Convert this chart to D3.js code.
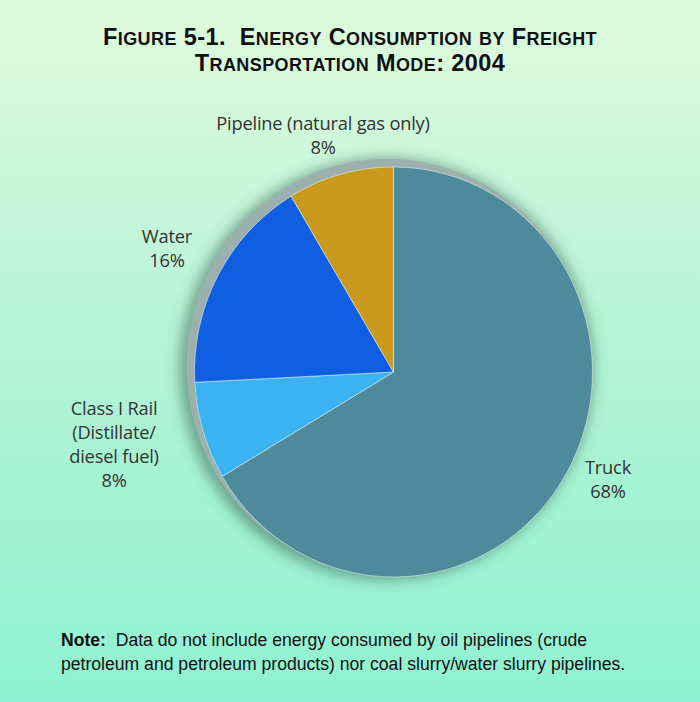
<!DOCTYPE html>
<html>
<head>
<meta charset="utf-8">
<script src="https://cdn.jsdelivr.net/npm/d3@7.9.0/dist/d3.min.js"></script>
<style>
  html, body { margin: 0; padding: 0; }
  body { width: 700px; height: 702px; overflow: hidden; }
  svg { display: block; }
  text { white-space: pre; }
</style>
</head>
<body>
<svg id="chart" width="700" height="702"></svg>
<script>
// ---- data ----
const modes = ['Truck', 'Class I Rail', 'Water', 'Pipeline'];
// slice sizes as drawn in the figure (percent of total)
const shares = [66.5, 7.7, 17.2, 8.6];
// percentages printed on the labels
const pctLabels = ['68%', '8%', '16%', '8%'];
const labelLines = [
  ['Truck'],
  ['Class I Rail', '(Distillate/', 'diesel fuel)'],
  ['Water'],
  ['Pipeline (natural gas only)']
];
const colors = ['#4d8a9b', '#3bb3f2', '#105fe2', '#c8991c'];

const titleLines = ['Figure 5-1.  Energy Consumption by Freight', 'Transportation Mode: 2004'];
const noteLines = [
  ['Note:', '  Data do not include energy consumed by oil pipelines (crude'],
  ['', 'petroleum and petroleum products) nor coal slurry/water slurry pipelines.']
];

// ---- layout ----
const W = 700, H = 702;
const cx = 393.5, cy = 372;
const ry = 205, rx = 199;

const svg = d3.select('#chart');
const defs = svg.append('defs');

const bg = defs.append('linearGradient').attr('id', 'bg')
  .attr('x1', 0).attr('y1', 0).attr('x2', 0).attr('y2', 1);
bg.append('stop').attr('offset', '0%').attr('stop-color', '#e0fadd');
bg.append('stop').attr('offset', '50%').attr('stop-color', '#b4f3d6');
bg.append('stop').attr('offset', '100%').attr('stop-color', '#8ff2d2');

defs.append('filter').attr('id', 'blur')
  .attr('x', '-20%').attr('y', '-20%').attr('width', '140%').attr('height', '140%')
  .append('feGaussianBlur').attr('stdDeviation', 7);

svg.append('rect').attr('width', W).attr('height', H).attr('fill', 'url(#bg)');

// title in small caps: lowercase letters become smaller capitals
const titleG = svg.append('g')
  .attr('text-anchor', 'middle')
  .attr('font-family', '"Liberation Sans", Arial, sans-serif')
  .attr('font-weight', 'bold')
  .attr('letter-spacing', 0.4)
  .attr('fill', '#111');

titleLines.forEach((line, li) => {
  const t = titleG.append('text').attr('x', 350).attr('y', 45 + li * 26);
  let runs = [];
  for (const ch of line) {
    const small = ch >= 'a' && ch <= 'z';
    const last = runs[runs.length - 1];
    if (last && last.small === small) last.s += ch;
    else runs.push({ small, s: ch });
  }
  runs.forEach(r => {
    t.append('tspan')
      .attr('font-size', r.small ? 18 : 23.5)
      .text(r.s.toUpperCase());
  });
});

// pie
const pie = d3.pie().value(d => d).sort(null).startAngle(0).endAngle(2 * Math.PI);
const arcs = pie(shares);
const arc = d3.arc().innerRadius(0).outerRadius(ry);

const pieG = svg.append('g').attr('transform', `translate(${cx},${cy})`);

// soft shadow + grey rim behind the pie
pieG.append('ellipse')
  .attr('cx', -7).attr('cy', -3).attr('rx', rx + 8).attr('ry', ry + 6)
  .attr('fill', '#2a5444').attr('opacity', 0.5)
  .attr('filter', 'url(#blur)');
pieG.append('ellipse')
  .attr('cx', -6).attr('cy', -6).attr('rx', rx + 2).attr('ry', ry + 2)
  .attr('fill', '#9cb0ae');

pieG.append('g')
  .attr('transform', `scale(${rx / ry},1)`)
  .selectAll('path')
  .data(arcs)
  .join('path')
  .attr('d', arc)
  .attr('fill', (d, i) => colors[i])
  .attr('stroke', '#e8f4f0')
  .attr('stroke-opacity', 0.55)
  .attr('stroke-width', 1)
  .attr('vector-effect', 'non-scaling-stroke');

// labels
const labelPos = [
  { x: 608, y: 474 },
  { x: 114, y: 415 },
  { x: 167, y: 243 },
  { x: 323, y: 130 }
];
const lh = 24;
const labels = svg.append('g')
  .attr('font-family', '"Open Sans", "DejaVu Sans", sans-serif')
  .attr('font-size', 18.3)
  .attr('letter-spacing', -0.2)
  .attr('fill', '#333')
  .attr('text-anchor', 'middle');

modes.forEach((m, i) => {
  const lines = labelLines[i].concat([pctLabels[i]]);
  const t = labels.append('text');
  lines.forEach((s, j) => {
    t.append('tspan').attr('x', labelPos[i].x).attr('y', labelPos[i].y + j * lh).text(s);
  });
});

// note
const note = svg.append('g')
  .attr('font-family', '"Liberation Sans", Arial, sans-serif')
  .attr('font-size', 17.6)
  .attr('fill', '#111');
noteLines.forEach((parts, i) => {
  const t = note.append('text').attr('x', 61).attr('y', 646 + i * 24);
  if (parts[0]) t.append('tspan').attr('font-weight', 'bold').text(parts[0]);
  t.append('tspan').text(parts[1]);
});
</script>
</body>
</html>
